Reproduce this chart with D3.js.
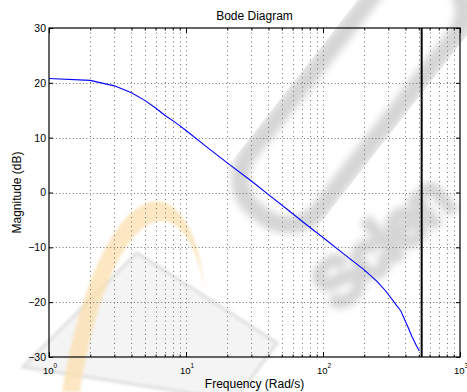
<!DOCTYPE html>
<html>
<head>
<meta charset="utf-8">
<script src="https://cdn.jsdelivr.net/npm/d3@7"></script>
<style>
  html, body { margin: 0; padding: 0; background: #ffffff; }
  svg { display: block; font-family: "Liberation Sans", Arial, Helvetica, sans-serif; }
</style>
</head>
<body>
<div id="chart"></div>
<script>
// magnitude response
const freq = [1, 2, 3, 4, 5, 6, 7, 8, 9, 10, 14, 20, 30, 40, 55, 75, 100, 140, 200, 250, 290, 340, 370, 395, 420, 445, 480, 505];
const magDb = [20.8, 20.45, 19.45, 18.2, 16.8, 15.4, 14.1, 13.1, 12.2, 11.3, 8.4, 5.4, 2.1, -0.4, -3.1, -5.8, -8.2, -11.1, -14.1, -16.3, -18.1, -20.4, -21.6, -23.2, -24.7, -26.2, -27.9, -28.9];

const markerFreq = 525; // vertical black line
const xDomain = [1, 1000];
const yDomain = [-30, 30];
const yTicks = [-30, -20, -10, 0, 10, 20, 30];
const xMajor = [1, 10, 100, 1000];
const xExponents = ['0', '1', '2', '3'];

const width = 467;
const height = 392;
const margin = { top: 28, right: 7, bottom: 35, left: 49 };

const svg = d3.select('#chart')
    .append('svg')
    .attr('width', width)
    .attr('height', height);

const x = d3.scaleLog().domain(xDomain).range([margin.left, width - margin.right]);
const y = d3.scaleLinear().domain(yDomain).range([height - margin.bottom, margin.top]);

const x0 = x.range()[0], x1 = x.range()[1];
const y0 = y.range()[1], y1 = y.range()[0];

// faint watermark left over in the source picture
const defs = svg.append('defs');
defs.append('filter').attr('id', 'soft').append('feGaussianBlur').attr('stdDeviation', 3.5);
defs.append('filter').attr('id', 'soft2').append('feGaussianBlur').attr('stdDeviation', 1.5);
const wm = svg.append('g').attr('class', 'watermark');
wm.append('path')
    .attr('d', 'M23,367 L137,253 L277,343 L235,400 Z')
    .attr('fill', '#f4f4f4')
    .attr('stroke', '#dedede')
    .attr('stroke-width', 3)
    .attr('filter', 'url(#soft2)');
wm.append('path')
    .attr('d', 'M62,392 C100,170 190,150 205,290 C185,178 112,196 80,392 Z')
    .attr('fill', '#fbdfae')
    .attr('opacity', 0.75)
    .attr('filter', 'url(#soft2)');
wm.append('rect')
    .attr('x', -150).attr('y', -45).attr('width', 300).attr('height', 90).attr('rx', 40)
    .attr('transform', 'translate(352,95) rotate(-52)')
    .attr('fill', 'none')
    .attr('stroke', '#d6d6d6')
    .attr('stroke-width', 18)
    .attr('filter', 'url(#soft)');
wm.append('text')
    .attr('transform', 'translate(338,312) rotate(-42)')
    .attr('font-size', 64)
    .attr('fill', 'none')
    .attr('stroke', '#d6d6d6')
    .attr('stroke-width', 8)
    .attr('filter', 'url(#soft)')
    .text('Scien');

// grid
const minor = [];
[1, 10, 100].forEach(function(d) {
    for (let k = 2; k <= 9; k++) minor.push(d * k);
});
const gridX = minor.concat([10, 100]);

const grid = svg.append('g').attr('class', 'grid')
    .attr('stroke', '#707070')
    .attr('stroke-width', 1);

grid.selectAll('line.vx')
    .data(gridX)
    .join('line')
    .attr('class', 'vx')
    .attr('x1', function(d) { return Math.round(x(d)) + 0.5; })
    .attr('x2', function(d) { return Math.round(x(d)) + 0.5; })
    .attr('y1', y0)
    .attr('y2', y1)
    .attr('stroke-dasharray', '1,3.5');

grid.selectAll('line.hy')
    .data(yTicks.slice(1, -1))
    .join('line')
    .attr('class', 'hy')
    .attr('x1', x0)
    .attr('x2', x1)
    .attr('y1', function(d) { return Math.round(y(d)) + 0.5; })
    .attr('y2', function(d) { return Math.round(y(d)) + 0.5; })
    .attr('stroke-dasharray', '1,2.4');

// response curve
const line = d3.line()
    .x(function(d, i) { return x(freq[i]); })
    .y(function(d) { return y(d); });

svg.append('path')
    .datum(magDb)
    .attr('d', line)
    .attr('fill', 'none')
    .attr('stroke', '#0000ff')
    .attr('stroke-width', 1.1);

// vertical marker
svg.append('line')
    .attr('x1', x(markerFreq))
    .attr('x2', x(markerFreq))
    .attr('y1', y0)
    .attr('y2', y1)
    .attr('stroke', '#000')
    .attr('stroke-width', 2);

// axes, ticks point inward on all four sides
const fmt = function(d) { return d < 0 ? '\u2212' + Math.abs(d) : String(d); };

svg.append('g')
    .attr('transform', 'translate(' + x0 + ',0)')
    .call(d3.axisLeft(y).tickValues(yTicks).tickSize(-4).tickPadding(3).tickFormat(fmt))
    .call(function(g) {
        g.select('.domain').remove();
        g.selectAll('text').attr('font-size', 10.5).attr('fill', '#000').attr('font-family', null);
    });

svg.append('g')
    .attr('transform', 'translate(' + x1 + ',0)')
    .call(d3.axisRight(y).tickValues(yTicks).tickSize(-4).tickFormat(''))
    .call(function(g) { g.select('.domain').remove(); });

[[y1, -1, d3.axisBottom], [y0, 1, d3.axisTop]].forEach(function(a) {
    svg.append('g')
        .attr('transform', 'translate(0,' + a[0] + ')')
        .call(a[2](x).tickValues(xMajor).tickSize(-5).tickFormat(''))
        .call(function(g) { g.select('.domain').remove(); });
    svg.append('g')
        .attr('transform', 'translate(0,' + a[0] + ')')
        .call(a[2](x).tickValues(minor).tickSize(-2.5).tickFormat(''))
        .call(function(g) { g.select('.domain').remove(); });
});

// x tick labels 10^n
const xl = svg.append('g').attr('class', 'x-labels');
xMajor.forEach(function(d, i) {
    const t = xl.append('text')
        .attr('x', x(d) + 1)
        .attr('y', 373.5)
        .attr('text-anchor', 'middle')
        .attr('font-size', 9.5);
    t.append('tspan').text('10');
    t.append('tspan').attr('dy', -6).attr('font-size', 6.5).text(xExponents[i]);
});

// box
svg.append('rect')
    .attr('x', x0)
    .attr('y', y0)
    .attr('width', x1 - x0)
    .attr('height', y1 - y0)
    .attr('fill', 'none')
    .attr('stroke', '#000')
    .attr('stroke-width', 1.2);

// titles
svg.append('text')
    .attr('x', (x0 + x1) / 2)
    .attr('y', 20)
    .attr('text-anchor', 'middle')
    .attr('font-size', 12)
    .text('Bode Diagram');

svg.append('text')
    .attr('x', (x0 + x1) / 2)
    .attr('y', 387.5)
    .attr('text-anchor', 'middle')
    .attr('font-size', 12)
    .text('Frequency (Rad/s)');

svg.append('text')
    .attr('transform', 'translate(21,' + ((y0 + y1) / 2) + ') rotate(-90)')
    .attr('text-anchor', 'middle')
    .attr('font-size', 12)
    .text('Magnitude (dB)');
</script>
</body>
</html>
